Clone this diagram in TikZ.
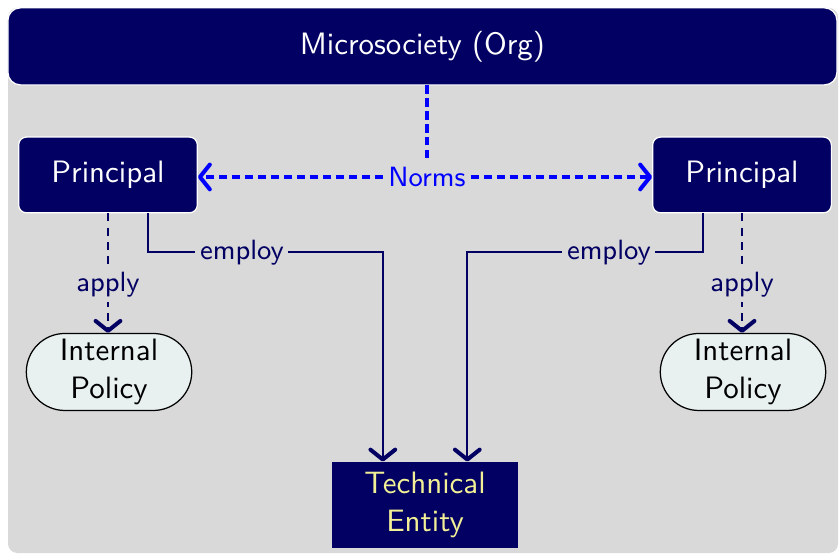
\documentclass[tikz,border=0pt]{standalone}
\usetikzlibrary{arrows.meta,shapes.misc,positioning}
\definecolor{navy}{RGB}{2,0,98}
\definecolor{techyellow}{RGB}{242,240,150}
\definecolor{polfill}{RGB}{232,240,240}

\begin{document}
\begin{tikzpicture}[font=\sffamily,
    box/.style={fill=navy, draw=white, thin, text=white, rounded corners=2.5pt,
                minimum width=2.03cm, minimum height=0.86cm},
    policy/.style={rounded rectangle, draw=black, fill=polfill, align=center,
                   minimum width=1.95cm, minimum height=0.875cm, inner sep=1pt},
    lbl/.style={fill=gray!30, font=\sffamily\small, inner sep=1.5pt},
    tip/.style={-{Straight Barb[round,length=3.2pt,width=8pt,line width=1.3pt]}},
    normsline/.style={blue, line width=1pt, dash pattern=on 2.6pt off 1.6pt},
    applyline/.style={navy, semithick, dash pattern=on 2.6pt off 2pt},
    employ/.style={navy, semithick}]
\useasboundingbox (0,0) rectangle (9.534,6.295);

%---------------------------------------------------------------------------------------- FONDO
\fill[gray!30, rounded corners=3pt] (0.091,0.011) rectangle (9.523,6.205);

\node[box, rounded corners=4pt, minimum width=9.42cm, minimum height=0.875cm]
    (org) at (4.80,5.768) {Microsociety (Org)};                      %------------- top bar

%---------------------------------------------------------------------------------------- PRINCIPALES
\node[box] (prinL) at (1.227,4.307) {Principal};
\node[box] (prinR) at (8.432,4.307) {Principal};

\node[lbl, text=blue] (norms) at (4.852,4.284) {Norms};               %------------- norms label

\draw[normsline] (org.south -| norms) -- (norms.north);
\draw[normsline, tip] (norms.west) -- (norms.west -| prinL.east);
\draw[normsline, tip] (norms.east) -- (norms.east -| prinR.west);

%---------------------------------------------------------------------------------------- POLITICAS
\node[policy] (polL) at (1.239,2.068) {Internal\\Policy};
\node[policy] (polR) at (8.443,2.068) {Internal\\Policy};

\draw[applyline, tip] (prinL.south) -- node[lbl, text=navy, pos=0.6]{apply} (prinL.south |- polL.north);
\draw[applyline, tip] (prinR.south) -- node[lbl, text=navy, pos=0.6]{apply} (prinR.south |- polR.north);

%---------------------------------------------------------------------------------------- ENTIDAD TECNICA
\node[fill=navy, text=techyellow, align=center, minimum width=2.11cm, minimum height=0.94cm]
    (tech) at (4.83,0.557) {Technical\\Entity};

\draw[employ, tip] ([xshift=4.55mm]prinL.south) -- ++(0,-0.443)
    -| node[lbl, text=navy, pos=0.2]{employ} ([xshift=-4.8mm]tech.north);
\draw[employ, tip] ([xshift=-4.4mm]prinR.south) -- ++(0,-0.443)
    -| node[lbl, text=navy, pos=0.2]{employ} ([xshift=4.8mm]tech.north);

\end{tikzpicture}
\end{document}
